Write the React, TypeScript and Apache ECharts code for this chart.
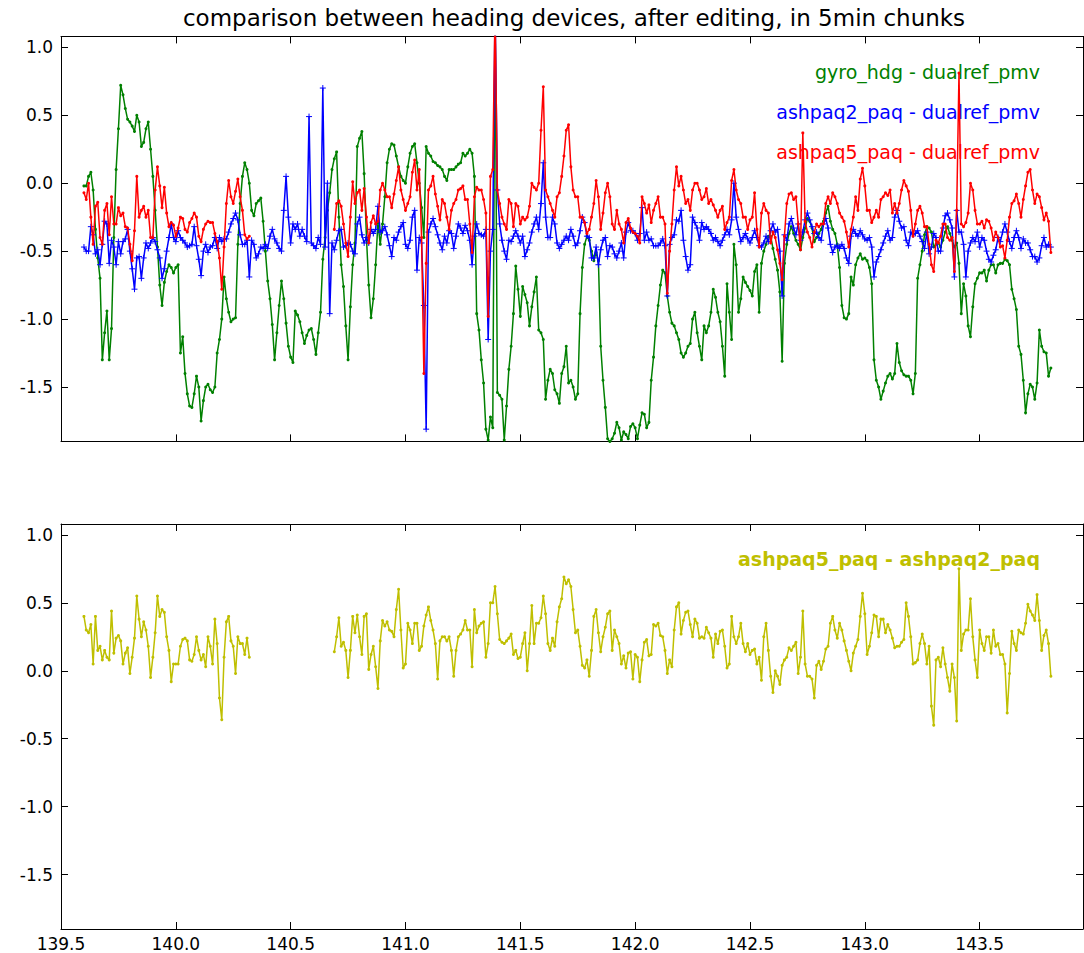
import React, { useEffect, useRef } from "react";
import * as echarts from "echarts";

// time axis: 5-min chunk centres (decimal day of year), one value every 0.01 day, 139.60 .. 143.81
const times: number[] = Array.from({ length: 422 }, (_, i) => Math.round((139.6 + i * 0.01) * 100) / 100);

// rows of ten values: 139.60-139.69, 139.70-139.79, ...
const gyroMinusDualref: (number | null)[] = [
  -0.02, -0.02, 0.05, 0.08, -0.05, -0.34, -0.55, -0.7, -1.3, -1.1,
  -0.94, -1.3, -1.07, -0.4, 0.1, 0.4, 0.72, 0.65, 0.55, 0.47,
  0.45, 0.42, 0.38, 0.5, 0.45, 0.27, 0.3, 0.4, 0.45, 0.25,
  0.05, -0.2, -0.47, -0.75, -0.9, -0.73, -0.65, -0.6, -0.62, -0.66,
  -0.62, -0.6, -1.25, -1.13, -1.4, -1.55, -1.64, -1.65, -1.55, -1.42,
  -1.5, -1.75, -1.6, -1.5, -1.48, -1.52, -1.54, -1.5, -1.25, -1.15,
  -1.0, -0.69, -0.85, -0.95, -1.02, -1.0, -0.99, -0.45, -0.15, 0.05,
  0.15, 0.1, 0.0, -0.2, -0.24, -0.15, -0.13, -0.11, -0.28, -0.5,
  -0.72, -0.85, -1.04, -1.3, -1.1, -0.9, -0.72, -0.85, -1.03, -1.2,
  -1.28, -1.32, -0.94, -0.97, -1.02, -1.1, -1.18, -1.12, -1.08, -1.07,
  -1.15, -1.26, -1.1, -0.95, -0.56, -0.4, -0.2, -0.07, 0.1, 0.18,
  0.23, -0.25, -0.6, -0.76, -1.05, -1.3, -0.91, -0.6, -0.44, 0.27,
  0.33, 0.38, 0.07, -0.4, -0.75, -0.99, -0.85, -0.6, -0.29, -0.45,
  -0.3, -0.1, 0.15, 0.25, 0.29, 0.28, 0.2, 0.12, 0.05, 0.02,
  0.0, 0.12, 0.22, 0.27, 0.29, 0.15, 0.0, -0.18, -0.4, 0.27,
  0.22, 0.2, 0.16, 0.15, 0.13, 0.12, 0.1, 0.05, 0.02, 0.1,
  0.1, 0.1, 0.12, 0.14, 0.15, 0.22, 0.2, 0.22, 0.25, 0.22,
  0.05, -0.96, -1.08, -1.3, -1.47, -1.81, -1.89, -1.72, -1.8, 1.3,
  -1.54, -1.56, -1.59, -1.89, -1.64, -1.37, -1.2, -0.96, -0.61, -0.78,
  -0.98, -0.76, -0.82, -0.88, -1.05, -0.91, -0.8, -0.69, -1.08, -1.1,
  -1.15, -1.59, -1.45, -1.37, -1.4, -1.52, -1.55, -1.62, -1.4, -1.35,
  -1.2, -1.47, -1.45, -1.5, -1.59, -1.55, -0.96, -0.62, -0.45, -0.39,
  -0.42, -0.5, -0.57, -0.51, -0.57, -1.2, -1.45, -1.65, -1.88, -1.9,
  -1.88, -1.84, -1.76, -1.8, -1.89, -1.83, -1.85, -1.88, -1.79, -1.77,
  -1.8, -1.88, -1.78, -1.69, -1.7, -1.8, -1.76, -1.45, -1.28, -1.05,
  -0.9, -0.75, -0.64, -0.66, -0.83, -0.95, -1.03, -1.05, -1.1, -1.15,
  -1.25, -1.28, -1.25, -1.2, -1.18, -1.0, -0.95, -1.1, -1.2, -1.3,
  -1.05, -1.1, -1.05, -0.95, -0.78, -0.84, -0.95, -1.02, -1.2, -1.42,
  -0.74, -0.95, -1.15, -0.45, -0.6, -0.95, -0.85, -0.69, -0.73, -0.76,
  -0.79, -0.83, -0.65, -0.6, -0.95, -0.59, -0.5, -0.45, -0.39, -0.39,
  -0.48, -0.56, -0.64, -0.8, -1.31, -0.59, -0.45, -0.37, -0.32, -0.37,
  -0.42, -0.45, -0.49, -0.4, -0.33, -0.26, -0.28, -0.33, -0.43, -0.4,
  -0.37, -0.34, -0.28, -0.22, -0.17, -0.28, -0.34, -0.37, -0.45, -0.62,
  -0.9, -0.99, -1.0, -0.96, -0.69, -0.75, -0.6, -0.55, -0.52, -0.56,
  -0.55, -0.57, -0.62, -0.74, -1.3, -1.45, -1.5, -1.59, -1.53, -1.47,
  -1.42, -1.4, -1.44, -1.4, -1.18, -1.32, -1.38, -1.41, -1.42, -1.42,
  -1.45, -1.55, -1.4, -0.7, -0.6, -0.5, -0.38, -0.32, -0.33, -0.36,
  -0.47, -0.45, -0.44, -0.47, -0.42, -0.36, -0.32, -0.37, -0.42, -0.47,
  -0.44, -0.59, -0.96, -0.74, -0.83, -1.05, -1.13, -0.91, -0.74, -0.7,
  -0.66, -0.66, -0.64, -0.72, -0.64, -0.6, -0.6, -0.66, -0.6, -0.59,
  -0.59, -0.56, -0.57, -0.6, -0.78, -0.85, -0.93, -1.2, -1.26, -1.45,
  -1.69, -1.55, -1.48, -1.5, -1.59, -1.47, -1.08, -1.2, -1.24, -1.25,
  -1.42, -1.36,
];

const ashpaq2MinusDualref: (number | null)[] = [
  -0.47, -0.5, -0.5, -0.32, -0.38, -0.52, -0.49, -0.6, -0.45, -0.28,
  -0.3, -0.59, -0.42, -0.47, -0.6, -0.43, -0.52, -0.43, -0.41, -0.34,
  -0.5, -0.63, -0.78, -0.55, -0.54, -0.7, -0.55, -0.44, -0.48, -0.44,
  -0.4, -0.43, -0.49, -0.55, -0.7, -0.63, -0.5, -0.4, -0.3, -0.4,
  -0.43, -0.35, -0.4, -0.42, -0.44, -0.47, -0.46, -0.45, -0.32, -0.46,
  -0.56, -0.68, -0.5, -0.45, -0.51, -0.47, -0.46, -0.4, -0.48, -0.4,
  -0.43, -0.41, -0.41, -0.36, -0.3, -0.26, -0.22, -0.27, -0.38, -0.45,
  -0.45, -0.42, -0.69, -0.42, -0.45, -0.55, -0.52, -0.47, -0.48, -0.45,
  -0.48, -0.39, -0.34, -0.41, -0.44, -0.48, -0.5, -0.2, 0.05, -0.25,
  -0.44, -0.3, -0.34, -0.3, -0.39, -0.34, -0.39, -0.43, 0.49, -0.44,
  -0.46, -0.48, -0.4, -0.45, 0.7, -0.47, 0.0, -0.96, -0.44, -0.49,
  -0.42, -0.35, -0.34, -0.47, -0.46, -0.44, -0.45, -0.5, -0.52, -0.3,
  -0.25, -0.38, -0.44, -0.4, -0.44, -0.34, -0.37, -0.34, -0.17, -0.36,
  -0.35, -0.32, -0.38, -0.46, -0.54, -0.4, -0.42, -0.36, -0.32, -0.29,
  -0.45, -0.48, -0.42, -0.25, -0.2, -0.64, -0.4, -0.44, -0.9, -1.81,
  -0.36, -0.3, -0.26, -0.32, -0.38, -0.44, -0.49, -0.39, -0.44, -0.35,
  -0.37, -0.48, -0.39, -0.3, -0.33, -0.37, -0.31, -0.35, -0.42, -0.6,
  -0.39, -0.3, -0.37, -0.38, -0.39, -0.34, -1.15, -0.5, -0.34, 1.3,
  -0.05, -0.3, -0.42, -0.5, -0.56, -0.42, -0.43, -0.39, -0.35, -0.39,
  -0.44, -0.39, -0.54, -0.49, -0.44, -0.36, -0.3, -0.25, -0.34, -0.15,
  0.15, -0.25, -0.4, -0.4, -0.25, -0.3, -0.44, -0.48, -0.45, -0.42,
  -0.39, -0.42, -0.34, -0.39, -0.46, -0.44, -0.35, -0.25, -0.29, -0.39,
  -0.4, -0.55, -0.55, -0.47, -0.6, -0.49, -0.42, -0.4, -0.54, -0.46,
  -0.47, -0.52, -0.55, -0.5, -0.44, -0.55, -0.36, -0.29, -0.35, -0.35,
  -0.37, -0.42, -0.37, -0.18, -0.42, -0.36, -0.42, -0.41, -0.46, -0.46,
  -0.46, -0.44, -0.41, -0.46, -0.83, -0.45, -0.4, -0.38, -0.27, -0.28,
  -0.2, -0.42, -0.54, -0.64, -0.6, -0.25, -0.29, -0.33, -0.42, -0.29,
  -0.34, -0.32, -0.34, -0.37, -0.42, -0.4, -0.43, -0.46, -0.42, -0.38,
  -0.34, -0.38, -0.27, 0.0, -0.25, -0.34, -0.43, -0.4, -0.37, -0.41,
  -0.44, -0.4, -0.35, -0.4, -0.46, -0.47, -0.44, -0.39, -0.43, -0.35,
  -0.3, -0.36, -0.34, -0.5, -0.83, -0.38, -0.42, -0.3, -0.26, -0.33,
  -0.38, -0.3, -0.42, -0.36, -0.27, -0.22, -0.27, -0.32, -0.37, -0.36,
  -0.4, -0.42, -0.3, -0.26, -0.33, -0.45, -0.51, -0.47, -0.46, -0.48,
  -0.45, -0.48, -0.55, -0.59, -0.39, -0.34, -0.37, -0.39, -0.35, -0.38,
  -0.41, -0.42, -0.4, -0.47, -0.69, -0.58, -0.54, -0.49, -0.44, -0.39,
  -0.35, -0.42, -0.4, -0.25, -0.2, -0.28, -0.33, -0.32, -0.42, -0.46,
  -0.36, -0.38, -0.37, -0.35, -0.39, -0.43, -0.48, -0.36, -0.52, -0.47,
  -0.37, -0.4, -0.5, -0.5, -0.33, -0.24, -0.22, -0.27, -0.33, -0.69,
  -0.2, -0.36, -0.36, -0.45, -0.69, -0.5, -0.44, -0.4, -0.43, -0.36,
  -0.47, -0.4, -0.42, -0.5, -0.56, -0.58, -0.53, -0.49, -0.4, -0.43,
  -0.36, -0.3, -0.36, -0.43, -0.48, -0.4, -0.35, -0.4, -0.48, -0.41,
  -0.44, -0.44, -0.49, -0.54, -0.54, -0.58, -0.55, -0.46, -0.4, -0.47,
  -0.45, -0.47,
];

const ashpaq5MinusDualref: (number | null)[] = [
  -0.07, -0.12, 0.0, -0.25, -0.45, -0.17, -0.14, -0.4, -0.45, -0.2,
  -0.15, -0.38, -0.1, -0.3, -0.3, -0.18, -0.24, -0.22, -0.32, -0.33,
  -0.45, -0.57, -0.35, 0.05, -0.25, -0.2, -0.17, -0.25, -0.2, -0.4,
  -0.4, -0.05, 0.12, -0.02, -0.18, -0.03, -0.22, -0.32, -0.29, -0.31,
  -0.39, -0.33, -0.25, -0.26, -0.34, -0.36, -0.29, -0.26, -0.22, -0.25,
  -0.39, -0.43, -0.34, -0.3, -0.28, -0.29, -0.29, -0.37, -0.43, -0.55,
  -0.78, -0.47, -0.15, 0.02, -0.1, -0.15, -0.06, 0.03, -0.1, -0.2,
  -0.38, -0.41, -0.39, null, null, null, null, null, null, null,
  null, null, null, null, null, null, null, null, null, null,
  null, null, null, null, null, null, null, null, null, null,
  null, null, null, null, null, null, null, null, null, -0.34,
  -0.15, -0.13, -0.17, -0.3, -0.44, -0.54, -0.25, 0.01, -0.15, -0.07,
  -0.05, -0.2, -0.04, -0.25, -0.44, -0.29, -0.24, -0.3, -0.28, -0.05,
  0.0, -0.05, -0.1, -0.1, -0.18, -0.08, 0.02, 0.12, -0.05, -0.12,
  -0.2, -0.15, -0.1, 0.08, 0.17, -0.05, 0.1, -0.4, -1.4, -0.59,
  -0.05, -0.02, 0.05, -0.08, -0.17, -0.27, -0.12, -0.15, -0.25, -0.34,
  -0.2, -0.15, -0.12, -0.05, -0.04, -0.02, -0.12, -0.12, -0.3, -0.51,
  -0.1, -0.03, -0.05, -0.05, -0.12, -0.22, -0.98, 0.05, 0.1, 1.3,
  -0.05, -0.15, -0.25, -0.3, -0.34, -0.12, -0.15, -0.32, -0.15, -0.17,
  -0.3, -0.25, -0.27, -0.25, -0.17, 0.0, -0.03, -0.05, 0.0, 0.39,
  0.71, -0.05, -0.1, -0.15, -0.2, -0.25, -0.1, -0.07, 0.05, 0.2,
  0.39, 0.43, 0.12, -0.05, -0.1, -0.1, -0.25, -0.25, -0.29, -0.37,
  -0.34, -0.25, -0.15, 0.02, -0.1, -0.34, -0.22, -0.07, 0.0, -0.1,
  -0.3, -0.34, -0.2, -0.3, -0.34, -0.44, -0.29, -0.26, -0.33, -0.36,
  -0.37, -0.39, -0.44, -0.1, -0.15, -0.22, -0.16, -0.29, -0.2, -0.15,
  -0.1, -0.25, -0.25, -0.3, -0.81, -0.5, -0.3, -0.05, 0.12, -0.02,
  0.05, -0.05, -0.15, -0.12, -0.2, -0.05, 0.0, 0.0, -0.05, -0.12,
  -0.1, -0.04, -0.15, -0.12, -0.16, -0.2, -0.25, -0.2, -0.17, -0.34,
  -0.29, -0.25, 0.02, 0.1, -0.05, -0.12, -0.15, -0.25, -0.25, -0.34,
  -0.27, -0.25, -0.07, -0.34, -0.47, -0.22, -0.15, -0.2, -0.22, -0.44,
  -0.36, -0.4, -0.49, -0.59, -0.71, -0.39, -0.15, -0.08, -0.07, -0.12,
  -0.1, -0.3, -0.49, 0.37, -0.28, -0.36, -0.4, -0.47, -0.36, -0.3,
  -0.32, -0.3, -0.3, -0.15, -0.1, -0.15, -0.07, -0.1, -0.15, -0.22,
  -0.25, -0.28, -0.36, -0.47, -0.34, -0.25, -0.1, -0.2, 0.03, 0.11,
  -0.02, -0.2, -0.2, -0.29, -0.25, -0.2, -0.25, -0.12, -0.1, -0.07,
  -0.09, -0.05, -0.22, -0.15, -0.22, -0.15, -0.05, 0.02, -0.02, -0.06,
  -0.2, -0.39, -0.3, -0.2, -0.17, -0.22, -0.32, -0.32, -0.45, -0.6,
  -0.65, -0.42, -0.44, -0.39, -0.3, -0.3, -0.4, -0.42, -0.4, -0.65,
  -0.2, 0.81, -0.3, -0.32, -0.29, -0.22, 0.0, -0.05, -0.2, -0.3,
  -0.3, -0.28, -0.33, -0.27, -0.28, -0.33, -0.42, -0.36, -0.4, -0.47,
  -0.46, -0.55, -0.42, -0.25, -0.15, -0.13, -0.08, -0.15, -0.25, -0.12,
  -0.02, 0.08, 0.1, -0.05, -0.15, -0.08, -0.1, -0.18, -0.27, -0.22,
  -0.28, -0.51,
];

const ashpaq5MinusAshpaq2: (number | null)[] = [
  0.4, 0.3, 0.28, 0.34, 0.05, 0.4, 0.15, 0.18, 0.08, 0.15,
  0.1, 0.08, 0.44, 0.13, 0.24, 0.26, 0.22, 0.05, 0.13, 0.17,
  -0.02, 0.1, 0.24, 0.55, 0.38, 0.25, 0.36, 0.3, 0.18, -0.05,
  0.1, 0.28, 0.55, 0.4, 0.45, 0.43, 0.25, 0.15, -0.08, 0.05,
  0.05, 0.05, 0.18, 0.23, 0.24, 0.22, 0.08, 0.07, 0.12, 0.25,
  0.15, 0.08, 0.12, 0.03, 0.25, 0.18, 0.05, 0.38, 0.2, -0.2,
  -0.36, 0.1, 0.36, 0.4, 0.22, 0.18, -0.02, 0.25, 0.2, 0.2,
  0.12, 0.24, 0.1, null, null, null, null, null, null, null,
  null, null, null, null, null, null, null, null, null, null,
  null, null, null, null, null, null, null, null, null, null,
  null, null, null, null, null, null, null, null, null, 0.14,
  0.25, 0.39, 0.18, 0.21, 0.15, -0.05, 0.15, 0.4, 0.28, 0.41,
  0.25, 0.12, 0.4, 0.42, 0.01, 0.12, 0.18, 0.03, -0.13, 0.22,
  0.37, 0.33, 0.36, 0.3, 0.29, 0.25, 0.45, 0.6, 0.3, 0.02,
  0.05, 0.35, 0.3, 0.2, 0.35, 0.35, 0.15, 0.18, 0.33, 0.41,
  0.47, 0.37, 0.3, 0.2, -0.06, 0.22, 0.25, 0.25, 0.22, 0.25,
  0.15, -0.04, 0.15, 0.25, 0.27, 0.3, 0.37, 0.3, 0.3, 0.03,
  0.45, 0.28, 0.33, 0.35, 0.36, 0.1, 0.2, 0.5, 0.5, 0.62,
  0.42, 0.23, 0.21, 0.2, 0.22, 0.24, 0.27, 0.12, 0.15, 0.09,
  0.1, 0.2, 0.28, 0.0, 0.2, 0.48, 0.2, 0.35, 0.35, 0.39,
  0.55, 0.42, 0.2, 0.15, 0.24, 0.18, 0.36, 0.47, 0.53, 0.69,
  0.64, 0.67, 0.62, 0.45, 0.28, 0.3, 0.18, 0.04, 0.02, 0.08,
  -0.04, 0.15, 0.4, 0.45, 0.28, 0.14, 0.25, 0.32, 0.42, 0.44,
  0.15, 0.3, 0.25, 0.2, 0.05, 0.11, 0.02, 0.13, 0.14, -0.06,
  0.12, 0.1, -0.08, 0.08, 0.21, 0.23, 0.11, 0.12, 0.34, 0.33,
  0.35, 0.26, 0.25, 0.15, -0.02, 0.08, 0.03, 0.3, 0.47, 0.5,
  0.27, 0.37, 0.43, 0.44, 0.34, 0.25, 0.38, 0.35, 0.24, 0.25,
  0.24, 0.32, 0.28, 0.24, 0.1, 0.27, 0.2, 0.29, 0.3, 0.18,
  0.02, 0.05, 0.4, 0.25, 0.2, 0.25, 0.35, 0.2, 0.14, 0.2,
  0.12, 0.15, 0.16, 0.05, 0.1, -0.07, 0.25, 0.35, 0.15, -0.04,
  -0.16, 0.0, -0.04, -0.1, 0.04, 0.08, 0.1, 0.17, 0.15, 0.18,
  0.21, -0.02, 0.1, 0.44, 0.05, -0.04, -0.04, -0.06, -0.2, 0.04,
  0.07, 0.01, 0.07, 0.16, 0.18, 0.35, 0.4, 0.3, 0.24, 0.35,
  0.3, 0.22, 0.15, 0.07, 0.0, 0.13, 0.18, 0.23, 0.4, 0.57,
  0.42, 0.12, 0.18, 0.28, 0.41, 0.4, 0.25, 0.38, 0.38, 0.28,
  0.34, 0.3, 0.24, 0.17, 0.18, 0.18, 0.21, 0.23, 0.5, 0.4,
  0.25, 0.05, 0.06, 0.08, 0.2, 0.27, 0.2, 0.05, 0.18, -0.26,
  -0.4, 0.08, 0.1, 0.03, 0.17, 0.05, -0.05, -0.15, 0.05, -0.05,
  -0.37, 0.75, 0.15, 0.27, 0.3, 0.3, 0.53, 0.25, 0.08, -0.05,
  0.3, 0.2, 0.15, 0.25, 0.25, 0.13, 0.3, 0.18, 0.2, 0.12,
  0.12, 0.05, -0.31, -0.02, 0.29, 0.2, 0.15, 0.3, 0.28, 0.27,
  0.35, 0.49, 0.44, 0.41, 0.37, 0.56, 0.37, 0.15, 0.26, 0.3,
  0.2, -0.04,
];

const titleText = "comparison between heading devices, after editing, in 5min chunks";
const topLabels = ["gyro_hdg - dualref_pmv", "ashpaq2_paq - dualref_pmv", "ashpaq5_paq - dualref_pmv"];
const bottomLabel = "ashpaq5_paq - ashpaq2_paq";

const X_MIN = 139.5;
const X_MAX = 143.95;
const Y_MIN = -1.9;
const Y_MAX = 1.08;

const FONT = '"DejaVu Sans", "Liberation Sans", sans-serif';

const pairs = (arr: (number | null)[]) => times.map((t, i) => [t, arr[i] === null || arr[i] === undefined ? "-" : arr[i]]);

const halfFmt = (v: number) => (Math.abs(v * 2 - Math.round(v * 2)) < 1e-6 ? v.toFixed(1) : "");

const axisLine = { show: true, onZero: false, lineStyle: { color: "#000", width: 1 } };
const axisTick = { show: true, inside: true, length: 7, lineStyle: { color: "#000", width: 1 } };

function xAxisCfg(gridIndex: number, position: "top" | "bottom", labels: boolean) {
  return {
    type: "value",
    gridIndex,
    position,
    min: X_MIN,
    max: X_MAX,
    interval: 0.5,
    axisLine,
    axisTick,
    splitLine: { show: false },
    axisLabel: {
      show: labels,
      formatter: halfFmt,
      color: "#000",
      fontSize: 17,
      fontFamily: FONT,
      margin: 6,
      showMaxLabel: false,
    },
  };
}

function yAxisCfg(gridIndex: number, position: "left" | "right", labels: boolean) {
  return {
    type: "value",
    gridIndex,
    position,
    min: Y_MIN,
    max: Y_MAX,
    splitNumber: 6,
    axisLine,
    axisTick,
    splitLine: { show: false },
    axisLabel: {
      show: labels,
      formatter: halfFmt,
      color: "#000",
      fontSize: 17,
      fontFamily: FONT,
      margin: 8,
    },
  };
}

const plusSymbol = "path://M0,5L10,5M5,0L5,10";

export default function App() {
  const ref = useRef<HTMLDivElement>(null);
  useEffect(() => {
    if (!ref.current) return;
    const chart = echarts.init(ref.current, undefined, { renderer: "svg" });
    const option: any = {
      animation: false,
      backgroundColor: "#fff",
      grid: [
        { left: 61, top: 36.4, width: 1022, height: 405, containLabel: false },
        { left: 61, top: 524, width: 1022, height: 405, containLabel: false },
      ],
      xAxis: [
        xAxisCfg(0, "bottom", false),
        xAxisCfg(0, "top", false),
        xAxisCfg(1, "bottom", true),
        xAxisCfg(1, "top", false),
      ],
      yAxis: [
        yAxisCfg(0, "left", true),
        yAxisCfg(0, "right", false),
        yAxisCfg(1, "left", true),
        yAxisCfg(1, "right", false),
      ],
      series: [
        {
          name: topLabels[0],
          type: "line",
          xAxisIndex: 0,
          yAxisIndex: 0,
          data: pairs(gyroMinusDualref),
          symbol: "circle",
          symbolSize: 3,
          showSymbol: true,
          lineStyle: { color: "#008000", width: 1.5 },
          itemStyle: { color: "#008000" },
          clip: true,
          z: 2,
        },
        {
          name: topLabels[1],
          type: "line",
          xAxisIndex: 0,
          yAxisIndex: 0,
          data: pairs(ashpaq2MinusDualref),
          symbol: plusSymbol,
          symbolSize: 6,
          showSymbol: true,
          lineStyle: { color: "#0000ff", width: 1.5 },
          itemStyle: { color: "#0000ff", borderColor: "#0000ff", borderWidth: 1 },
          clip: true,
          z: 3,
        },
        {
          name: topLabels[2],
          type: "line",
          xAxisIndex: 0,
          yAxisIndex: 0,
          data: pairs(ashpaq5MinusDualref),
          symbol: "circle",
          symbolSize: 3,
          showSymbol: true,
          connectNulls: false,
          lineStyle: { color: "#ff0000", width: 1.5 },
          itemStyle: { color: "#ff0000" },
          clip: true,
          z: 4,
        },
        {
          name: bottomLabel,
          type: "line",
          xAxisIndex: 2,
          yAxisIndex: 2,
          data: pairs(ashpaq5MinusAshpaq2),
          symbol: "circle",
          symbolSize: 3,
          showSymbol: true,
          connectNulls: false,
          lineStyle: { color: "#bfbf00", width: 1.5 },
          itemStyle: { color: "#bfbf00" },
          clip: true,
          z: 2,
        },
      ],
      graphic: [
        {
          type: "text",
          x: 574,
          y: 18,
          z: 1,
          style: { text: titleText, fill: "#000", fontSize: 23, fontFamily: FONT, align: "center", verticalAlign: "middle" },
        },
        {
          type: "text",
          x: 1040,
          y: 72,
          z: 0,
          style: { text: topLabels[0], fill: "#008000", fontSize: 19, fontFamily: FONT, align: "right", verticalAlign: "middle" },
        },
        {
          type: "text",
          x: 1040,
          y: 112,
          z: 0,
          style: { text: topLabels[1], fill: "#0000ff", fontSize: 19, fontFamily: FONT, align: "right", verticalAlign: "middle" },
        },
        {
          type: "text",
          x: 1040,
          y: 152,
          z: 0,
          style: { text: topLabels[2], fill: "#ff0000", fontSize: 19, fontFamily: FONT, align: "right", verticalAlign: "middle" },
        },
        {
          type: "text",
          x: 1040,
          y: 559,
          z: 0,
          style: { text: bottomLabel, fill: "#bfbf00", fontSize: 19, fontWeight: "bold", fontFamily: FONT, align: "right", verticalAlign: "middle" },
        },
      ],
    };
    chart.setOption(option);
    return () => chart.dispose();
  }, []);
  return (
    <div
      ref={ref}
      style={{ position: "absolute", left: 0, top: 0, width: 1084, height: 953, background: "#fff" }}
    />
  );
}
